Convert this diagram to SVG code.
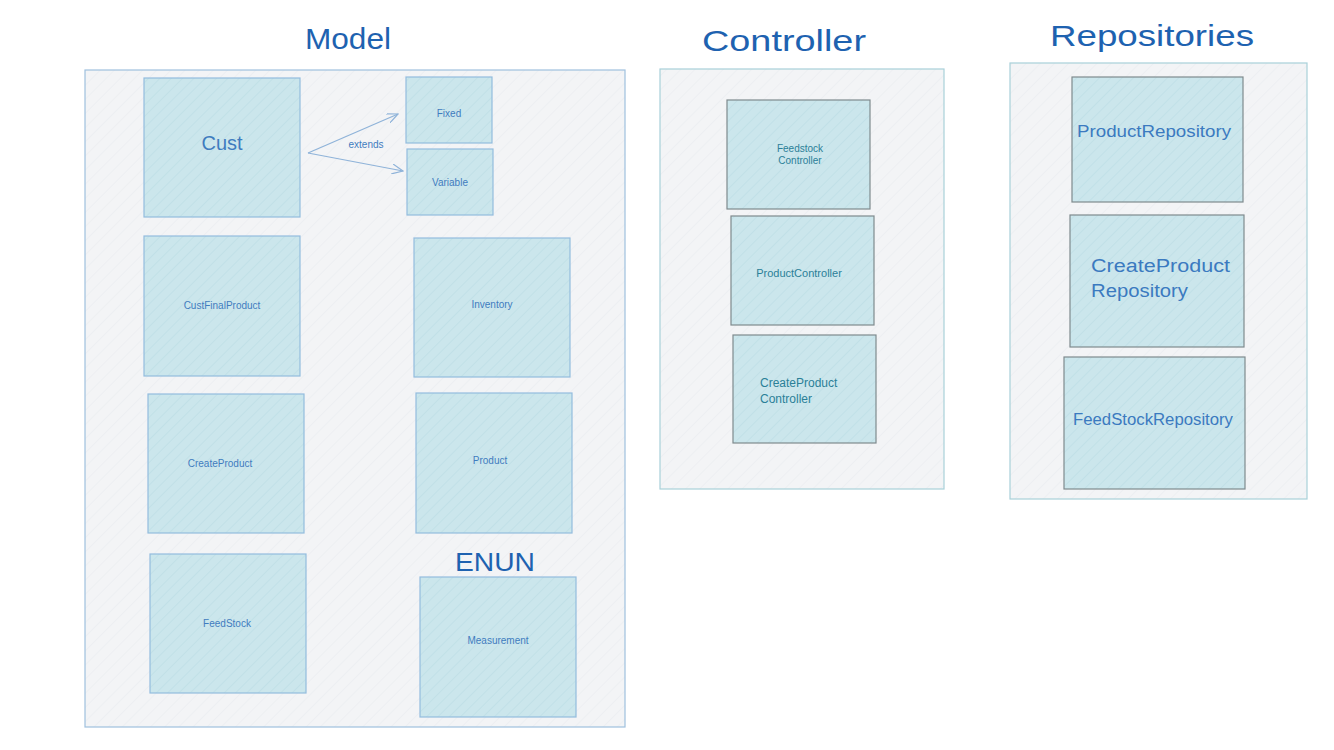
<svg xmlns="http://www.w3.org/2000/svg" width="1334" height="750" viewBox="0 0 1334 750">
<defs>
<pattern id="hatch" width="8" height="8" patternUnits="userSpaceOnUse" patternTransform="rotate(45)">
<rect width="8" height="8" fill="#cbe6ec"/>
<line x1="0" y1="0" x2="0" y2="8" stroke="#bcdde5" stroke-width="1.3"/>
</pattern>
<pattern id="hatchbg" width="10" height="10" patternUnits="userSpaceOnUse" patternTransform="rotate(45)">
<rect width="10" height="10" fill="#f3f4f6"/>
<line x1="0" y1="0" x2="0" y2="10" stroke="#eaedf0" stroke-width="1.2"/>
</pattern>
<marker id="arr" markerWidth="12" markerHeight="10" refX="11" refY="5" orient="auto" markerUnits="userSpaceOnUse">
<path d="M0,0 L11,5 L0,10" fill="none" stroke="#8fb3d9" stroke-width="1.2"/>
</marker>
</defs>
<style>
.title{font-family:"Liberation Sans",Arial,sans-serif;font-size:30px;fill:#1e62b0;text-anchor:middle}
.cont{fill:url(#hatchbg);stroke-width:1.2}
.mnode{fill:url(#hatch);stroke:#93bcde;stroke-width:1.2}
.gnode{fill:url(#hatch);stroke:#7f8a8e;stroke-width:1.2}
.mt{font-family:"Liberation Sans",Arial,sans-serif;font-size:10px;fill:#3f7cbf;text-anchor:middle}
.ct{font-family:"Liberation Sans",Arial,sans-serif;fill:#2a8098}
.rt{font-family:"Liberation Sans",Arial,sans-serif;fill:#3b7ac0}
</style>
<rect width="1334" height="750" fill="#ffffff"/>

<g id="title-model"><text class="title" x="348" y="49" textLength="86" lengthAdjust="spacingAndGlyphs">Model</text></g>
<g id="title-controller"><text class="title" x="784" y="51" textLength="164" lengthAdjust="spacingAndGlyphs">Controller</text></g>
<g id="title-repositories"><text class="title" x="1152" y="46" textLength="204" lengthAdjust="spacingAndGlyphs">Repositories</text></g>

<g id="model-container"><rect class="cont" x="85" y="70" width="540" height="657" stroke="#9fc0de"/></g>
<g id="controller-container"><rect class="cont" x="660" y="69" width="284" height="420" stroke="#a8d0d9"/></g>
<g id="repositories-container"><rect class="cont" x="1010" y="63" width="297" height="436" stroke="#a8d0d9"/></g>

<g id="cust"><rect class="mnode" x="144" y="78" width="156" height="139"/><text class="mt" x="222" y="150" style="font-size:20px">Cust</text></g>
<g id="fixed"><rect class="mnode" x="406" y="77" width="86" height="66"/><text class="mt" x="449" y="117">Fixed</text></g>
<g id="variable"><rect class="mnode" x="407" y="149" width="86" height="66"/><text class="mt" x="450" y="186">Variable</text></g>
<g id="custfinalproduct"><rect class="mnode" x="144" y="236" width="156" height="140"/><text class="mt" x="222" y="309">CustFinalProduct</text></g>
<g id="inventory"><rect class="mnode" x="414" y="238" width="156" height="139"/><text class="mt" x="492" y="308">Inventory</text></g>
<g id="createproduct"><rect class="mnode" x="148" y="394" width="156" height="139"/><text class="mt" x="220" y="467">CreateProduct</text></g>
<g id="product"><rect class="mnode" x="416" y="393" width="156" height="140"/><text class="mt" x="490" y="464">Product</text></g>
<g id="feedstock"><rect class="mnode" x="150" y="554" width="156" height="139"/><text class="mt" x="227" y="627">FeedStock</text></g>
<g id="enun-label"><text class="title" x="495" y="571" style="font-size:26px" textLength="80" lengthAdjust="spacingAndGlyphs">ENUN</text></g>
<g id="measurement"><rect class="mnode" x="420" y="577" width="156" height="140"/><text class="mt" x="498" y="644">Measurement</text></g>

<g id="feedstock-controller"><rect class="gnode" x="727" y="100" width="143" height="109"/><text class="ct" x="800" y="152" text-anchor="middle" font-size="10">Feedstock</text><text class="ct" x="800" y="164" text-anchor="middle" font-size="10">Controller</text></g>
<g id="product-controller"><rect class="gnode" x="731" y="216" width="143" height="109"/><text class="ct" x="799" y="277" text-anchor="middle" font-size="11">ProductController</text></g>
<g id="createproduct-controller"><rect class="gnode" x="733" y="335" width="143" height="108"/><text class="ct" x="760" y="387" font-size="12">CreateProduct</text><text class="ct" x="760" y="403" font-size="12">Controller</text></g>

<g id="product-repository"><rect class="gnode" x="1072" y="77" width="171" height="125"/><text class="rt" x="1154" y="137" text-anchor="middle" font-size="16" textLength="154" lengthAdjust="spacingAndGlyphs">ProductRepository</text></g>
<g id="createproduct-repository"><rect class="gnode" x="1070" y="215" width="174" height="132"/><text class="rt" x="1091" y="272" font-size="18" textLength="139" lengthAdjust="spacingAndGlyphs">CreateProduct</text><text class="rt" x="1091" y="297" font-size="18" textLength="97" lengthAdjust="spacingAndGlyphs">Repository</text></g>
<g id="feedstock-repository"><rect class="gnode" x="1064" y="357" width="181" height="132"/><text class="rt" x="1153" y="425" text-anchor="middle" font-size="16" textLength="160" lengthAdjust="spacingAndGlyphs">FeedStockRepository</text></g>

<g id="connectors">
<path d="M308,153 L398,114" fill="none" stroke="#8fb3d9" stroke-width="1.2" marker-end="url(#arr)"/>
<path d="M308,153 L403,171" fill="none" stroke="#8fb3d9" stroke-width="1.2" marker-end="url(#arr)"/>
<text class="mt" x="366" y="148">extends</text>
</g>
</svg>
